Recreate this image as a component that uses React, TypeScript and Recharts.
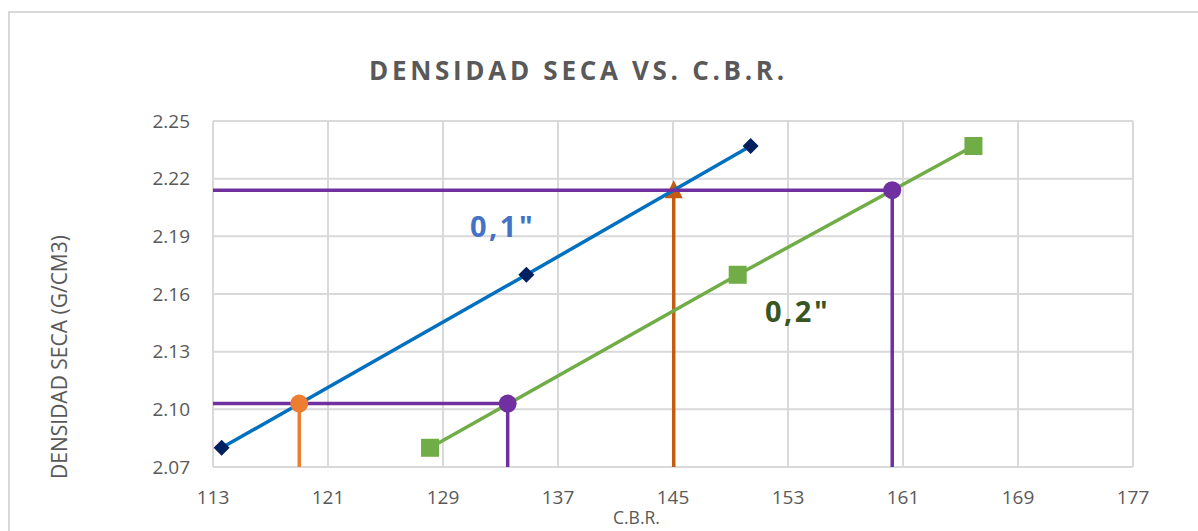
import React from 'react'
import { ScatterChart, Scatter, XAxis, YAxis, CartesianGrid } from 'recharts'

// C.B.R. values
const cbr01 = [113.6, 134.8, 150.4]
const cbr02 = [128.1, 149.5, 165.9]
const densities = [2.08, 2.17, 2.237]

// design lines (95% and 100% MDD)
const densLow = 2.103
const densHigh = 2.214
const cbrLow01 = 119.0
const cbrLow02 = 133.5
const cbrHigh01 = 145.05
const cbrHigh02 = 160.25

const xTicks = [113, 121, 129, 137, 145, 153, 161, 169, 177]
const yTicks = [2.07, 2.1, 2.13, 2.16, 2.19, 2.22, 2.25]
const xMin = 113
const yMin = 2.07

const blueData = cbr01.map((x, i) => ({ x, y: densities[i] }))
const greenData = cbr02.map((x, i) => ({ x, y: densities[i] }))

const purpleHigh = [
  { x: xMin, y: densHigh },
  { x: cbrHigh02, y: densHigh },
  { x: cbrHigh02, y: yMin }
]
const purpleLow = [
  { x: xMin, y: densLow },
  { x: cbrLow02, y: densLow },
  { x: cbrLow02, y: yMin }
]
const orangeLow = [
  { x: cbrLow01, y: densLow },
  { x: cbrLow01, y: yMin }
]
const orangeHigh = [
  { x: cbrHigh01, y: densHigh },
  { x: cbrHigh01, y: yMin }
]

const font = '"Open Sans", sans-serif'
const textGray = '#595959'

const Nothing = () => <g />

const Diamond = (p: any) => {
  const r = 8
  return <polygon points={`${p.cx},${p.cy - r} ${p.cx + r},${p.cy} ${p.cx},${p.cy + r} ${p.cx - r},${p.cy}`} fill="#002060" />
}
const Square = (p: any) => <rect x={p.cx - 9} y={p.cy - 9} width={18} height={18} fill="#70AD47" />
const Dot = (color: string) => (p: any) => <circle cx={p.cx} cy={p.cy} r={9} fill={color} />
const Triangle = (p: any) => (
  <polygon points={`${p.cx},${p.cy - 10} ${p.cx + 9},${p.cy + 8} ${p.cx - 9},${p.cy + 8}`} fill="#C55A11" />
)

export default function App() {
  const lw = 3.5
  return (
    <div style={{ position: 'absolute', left: 0, top: 0, width: 1198, height: 531, background: '#fff', overflow: 'hidden', fontFamily: font }}>
      <div style={{ position: 'absolute', left: 8, top: 11, width: 1300, height: 600, border: '2px solid #d9d9d9' }} />
      <ScatterChart width={1198} height={531} margin={{ top: 121, right: 65, bottom: 0, left: 0 }}>
        <CartesianGrid stroke="#d9d9d9" strokeWidth={2} />
        <XAxis
          type="number"
          dataKey="x"
          domain={[113, 177]}
          ticks={xTicks}
          height={64}
          tickLine={false}
          tickSize={8}
          tickMargin={16}
          axisLine={{ stroke: '#d9d9d9', strokeWidth: 2 }}
          tick={{ fill: textGray, fontSize: 19, fontFamily: font }}
        />
        <YAxis
          type="number"
          dataKey="y"
          domain={[2.07, 2.25]}
          ticks={yTicks}
          width={213}
          tickLine={false}
          tickSize={8}
          tickMargin={15}
          axisLine={{ stroke: '#d9d9d9', strokeWidth: 2 }}
          tickFormatter={(v: number) => v.toFixed(2)}
          tick={{ fill: textGray, fontSize: 19, fontFamily: font }}
        />
        <Scatter data={orangeHigh} line={{ stroke: '#C55A11', strokeWidth: lw }} shape={Nothing} isAnimationActive={false} />
        <Scatter data={[orangeHigh[0]]} shape={Triangle} isAnimationActive={false} />
        <Scatter data={blueData} line={{ stroke: '#0070C0', strokeWidth: lw }} shape={Diamond} isAnimationActive={false} />
        <Scatter data={greenData} line={{ stroke: '#70AD47', strokeWidth: lw }} shape={Square} isAnimationActive={false} />
        <Scatter data={purpleHigh} line={{ stroke: '#7030A0', strokeWidth: lw }} shape={Nothing} isAnimationActive={false} />
        <Scatter data={purpleLow} line={{ stroke: '#7030A0', strokeWidth: lw }} shape={Nothing} isAnimationActive={false} />
        <Scatter data={orangeLow} line={{ stroke: '#ED7D31', strokeWidth: lw }} shape={Nothing} isAnimationActive={false} />
        <Scatter data={[orangeLow[0]]} shape={Dot('#ED7D31')} isAnimationActive={false} />
        <Scatter data={[purpleLow[1], purpleHigh[1]]} shape={Dot('#7030A0')} isAnimationActive={false} />
      </ScatterChart>
      <div style={{ position: 'absolute', left: 369, top: 52, width: 440, whiteSpace: 'nowrap', fontSize: 26, fontWeight: 700, letterSpacing: 3.7, color: textGray }}>
        DENSIDAD SECA VS. C.B.R.
      </div>
      <div style={{ position: 'absolute', left: 470, top: 206, fontSize: 29, fontWeight: 700, color: '#4472C4', letterSpacing: 2.5 }}>0,1"</div>
      <div style={{ position: 'absolute', left: 765, top: 291, fontSize: 29, fontWeight: 700, color: '#375623', letterSpacing: 2.5 }}>0,2"</div>
      <div style={{ position: 'absolute', left: 613, top: 505, fontSize: 17.5, color: textGray }}>C.B.R.</div>
      <div
        style={{
          position: 'absolute',
          left: 59,
          top: 357,
          transform: 'translate(-50%, -50%) rotate(-90deg)',
          whiteSpace: 'nowrap',
          fontSize: 21,
          color: textGray
        }}
      >
        DENSIDAD SECA (G/CM3)
      </div>
    </div>
  )
}
